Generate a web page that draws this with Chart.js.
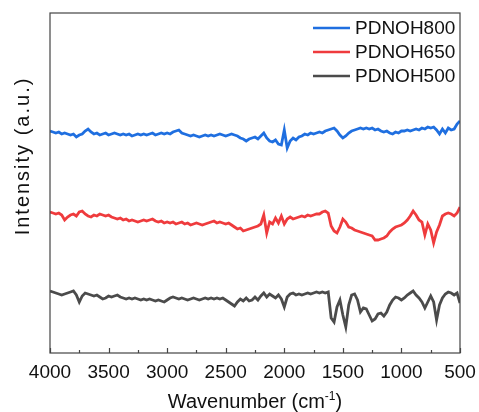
<!DOCTYPE html>
<html>
<head>
<meta charset="utf-8">
<script src="https://cdn.jsdelivr.net/npm/chart.js@4.4.1/dist/chart.umd.min.js"></script>
<style>
  html, body { margin: 0; padding: 0; background: #fff; }
  #wrap { width: 479px; height: 412px; }
</style>
</head>
<body>
<div id="wrap"><canvas id="ftir"></canvas></div>
<script>
const wavenumbers = [
  4000, 3975, 3950, 3925, 3900, 3875, 3850, 3825, 3800, 3775,
  3750, 3725, 3700, 3675, 3650, 3625, 3600, 3575, 3550, 3525,
  3500, 3475, 3450, 3425, 3400, 3375, 3350, 3325, 3300, 3275,
  3250, 3225, 3200, 3175, 3150, 3125, 3100, 3075, 3050, 3025,
  3000, 2975, 2950, 2925, 2900, 2875, 2850, 2825, 2800, 2775,
  2750, 2725, 2700, 2675, 2650, 2625, 2600, 2575, 2550, 2525,
  2500, 2475, 2450, 2425, 2400, 2375, 2350, 2325, 2300, 2275,
  2250, 2225, 2200, 2175, 2150, 2125, 2100, 2075, 2050, 2025,
  2000, 1975, 1950, 1925, 1900, 1875, 1850, 1825, 1800, 1775,
  1750, 1725, 1700, 1675, 1650, 1625, 1600, 1575, 1550, 1525,
  1500, 1475, 1450, 1425, 1400, 1375, 1350, 1325, 1300, 1275,
  1250, 1225, 1200, 1175, 1150, 1125, 1100, 1075, 1050, 1025,
  1000, 975, 950, 925, 900, 875, 850, 825, 800, 775,
  750, 725, 700, 675, 650, 625, 600, 575, 550, 525,
  500
];

// offset intensities (a.u.)
const pdnoh800 = [
  222, 221, 220, 221, 219, 220, 219, 218, 219, 216,
  218, 219, 222, 224, 221, 219, 220, 218, 219, 220,
  218, 219, 220, 219, 218, 219, 218, 219, 217, 218,
  219, 218, 219, 218, 219, 220, 218, 219, 220, 219,
  220, 219, 221, 222, 223, 220, 219, 218, 217, 218,
  217, 216, 217, 218, 217, 218, 217, 218, 219, 218,
  217, 218, 219, 218, 217, 215, 214, 212, 214, 215,
  216, 214, 217, 220, 215, 212, 211, 213, 209, 208,
  223, 205, 212, 215, 213, 216, 217, 219, 218, 220,
  219, 220, 221, 220, 222, 223, 224, 225, 222, 218,
  215, 217, 220, 222, 223, 224, 225, 224, 225, 224,
  225, 223, 224, 222, 221, 222, 220, 219, 221, 220,
  222, 222, 223, 222, 223, 224, 223, 225, 224, 226,
  225, 226, 223, 219, 224, 220, 225, 223, 224, 229,
  232
];

const pdnoh650 = [
  141, 140, 139, 140, 138, 133, 136, 138, 139, 137,
  141, 142, 139, 137, 136, 138, 137, 139, 138, 137,
  138, 136, 135, 134, 135, 133, 134, 132, 133, 132,
  131, 132, 133, 132, 133, 134, 132, 131, 132, 130,
  131, 130, 131, 129, 130, 131, 129, 130, 128, 129,
  130, 129, 128, 129, 130, 131, 132, 130, 131, 130,
  129, 130, 128, 126, 124, 125, 122, 123, 124, 125,
  126, 127, 129, 138, 120, 131, 129, 135, 130, 137,
  129, 134, 136, 134, 135, 136, 137, 136, 138, 137,
  138, 139, 139, 141, 142, 140, 127, 122, 120, 126,
  134, 131, 126, 125, 123, 122, 121, 120, 119, 118,
  117, 113, 113, 114, 115, 117, 121, 124, 126, 127,
  128, 130, 133, 137, 142, 138, 133, 131, 118, 129,
  123, 110, 121, 128, 137, 139, 140, 139, 137, 140,
  146
];

const pdnoh500 = [
  62, 61, 60, 59, 58, 59, 60, 61, 62, 58,
  51, 57, 60, 59, 58, 57, 58, 56, 54, 55,
  57, 56, 57, 58, 56, 55, 54, 55, 54, 55,
  54, 53, 54, 53, 54, 53, 52, 53, 52, 51,
  53, 55, 56, 55, 54, 55, 54, 53, 54, 55,
  54, 53, 54, 55, 54, 55, 54, 55, 54, 55,
  53, 51, 49, 47, 51, 54, 52, 55, 52, 53,
  56, 53, 57, 60, 56, 59, 57, 55, 58, 54,
  46, 56, 59, 60, 58, 59, 58, 59, 60, 59,
  60, 61, 60, 61, 60, 61, 35, 31, 46, 53,
  38, 26, 48, 58, 59, 53, 41, 45, 44, 38,
  32, 34, 39, 40, 37, 41, 48, 53, 56, 55,
  53, 55, 58, 60, 62, 58, 55, 51, 45, 51,
  57, 51, 33, 48, 55, 59, 61, 60, 58, 60,
  50
];

const xTicks = [4000, 3500, 3000, 2500, 2000, 1500, 1000, 500];
const FONT = 'Arial, "Liberation Sans", sans-serif';

function toPoints(arr) {
  return wavenumbers.map((w, i) => ({ x: w, y: arr[i] }));
}

// box + inward ticks + titles + legend
const decorations = {
  id: 'decorations',
  afterDraw(chart) {
    const { ctx, chartArea: a, scales } = chart;
    const xs = scales.x;
    ctx.save();

    ctx.strokeStyle = '#444';
    ctx.lineWidth = 1.2;
    ctx.strokeRect(a.left, a.top, a.right - a.left, a.bottom - a.top);

    ctx.beginPath();
    for (let v = 500; v <= 4000; v += 250) {
      const px = Math.round(xs.getPixelForValue(v)) + 0.5;
      const len = (v % 500 === 0) ? 5 : 3;
      ctx.moveTo(px, a.bottom);
      ctx.lineTo(px, a.bottom - len);
    }
    ctx.stroke();

    // x title with superscript
    ctx.fillStyle = '#111';
    ctx.textBaseline = 'alphabetic';
    const main = 'Wavenumber (cm';
    const sup = '-1';
    const end = ')';
    ctx.font = '20px ' + FONT;
    const wMain = ctx.measureText(main).width;
    const wEnd = ctx.measureText(end).width;
    ctx.font = '12px ' + FONT;
    const wSup = ctx.measureText(sup).width;
    const cx = (a.left + a.right) / 2;
    let tx = cx - (wMain + wSup + wEnd) / 2;
    const baseY = 408;
    ctx.textAlign = 'left';
    ctx.font = '20px ' + FONT;
    ctx.fillText(main, tx, baseY);
    tx += wMain;
    ctx.font = '12px ' + FONT;
    ctx.fillText(sup, tx, baseY - 8);
    tx += wSup;
    ctx.font = '20px ' + FONT;
    ctx.fillText(end, tx, baseY);

    // y title
    ctx.save();
    ctx.translate(23, 156);
    ctx.rotate(-Math.PI / 2);
    ctx.textAlign = 'center';
    ctx.textBaseline = 'middle';
    ctx.font = '20px ' + FONT;
    ctx.letterSpacing = '2px';
    ctx.fillText('Intensity (a.u.)', 0, 0);
    ctx.restore();

    // legend
    ctx.font = '19px ' + FONT;
    ctx.textAlign = 'left';
    ctx.textBaseline = 'middle';
    chart.data.datasets.forEach((ds, i) => {
      const y = a.top + 15 + i * 24;
      ctx.strokeStyle = ds.borderColor;
      ctx.lineWidth = 2.5;
      ctx.beginPath();
      ctx.moveTo(a.right - 147, y);
      ctx.lineTo(a.right - 110, y);
      ctx.stroke();
      ctx.fillStyle = '#111';
      ctx.fillText(ds.label, a.right - 105, y + 1);
    });

    ctx.restore();
  }
};

new Chart(document.getElementById('ftir'), {
  type: 'line',
  data: {
    datasets: [
      { label: 'PDNOH800', data: toPoints(pdnoh800), borderColor: '#1f6fe0' },
      { label: 'PDNOH650', data: toPoints(pdnoh650), borderColor: '#ef3b3d' },
      { label: 'PDNOH500', data: toPoints(pdnoh500), borderColor: '#4b4b4b' }
    ]
  },
  options: {
    responsive: true,
    maintainAspectRatio: false,
    animation: false,
    layout: { padding: { left: 0, right: 19, top: 13, bottom: 0 } },
    elements: {
      line: { borderWidth: 2.8, tension: 0 },
      point: { radius: 0 }
    },
    plugins: {
      legend: { display: false },
      tooltip: { enabled: false }
    },
    scales: {
      x: {
        type: 'linear',
        reverse: true,
        min: 500,
        max: 4000,
        afterBuildTicks: s => { s.ticks = xTicks.map(v => ({ value: v })); },
        afterFit: s => { s.height = 59; s.paddingLeft = 0; s.paddingRight = 0; },
        ticks: {
          padding: 8,
          color: '#111',
          maxRotation: 0,
          autoSkip: false,
          font: { size: 19, family: FONT },
          callback: v => String(v)
        },
        grid: { display: false, drawTicks: false },
        border: { display: false }
      },
      y: {
        min: 0,
        max: 340,
        afterFit: s => { s.width = 50; },
        ticks: { display: false },
        grid: { display: false, drawTicks: false },
        border: { display: false }
      }
    }
  },
  plugins: [decorations]
});
</script>
</body>
</html>
